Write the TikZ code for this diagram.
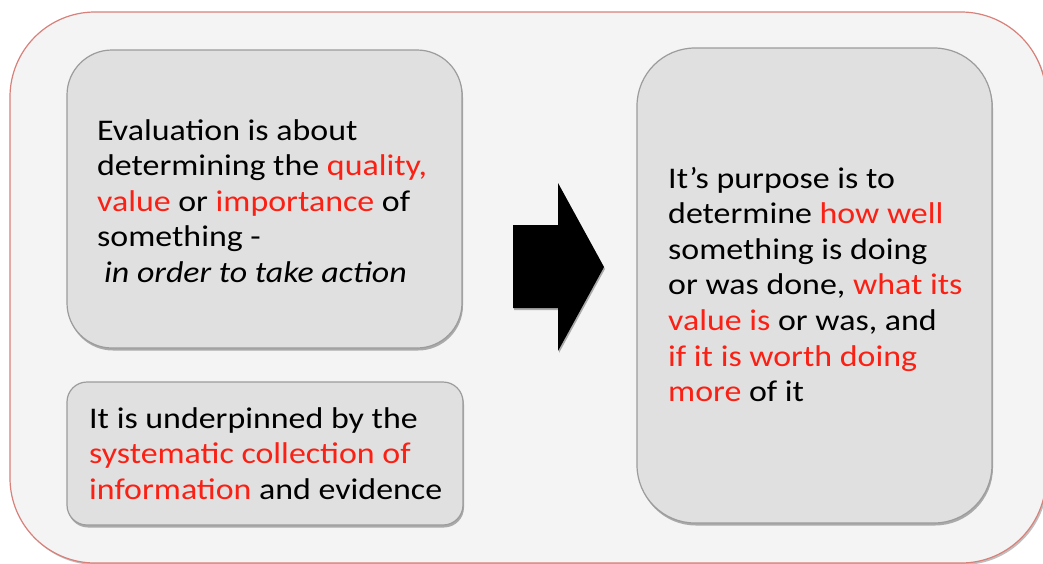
\documentclass[tikz,border=0pt]{standalone}
\usepackage{fontspec}
\setmainfont{Carlito}[FakeStretch=1.13]
\usetikzlibrary{shadows}
\definecolor{outerfill}{HTML}{F4F4F4}
\definecolor{outerline}{HTML}{D8807A}
\definecolor{boxfill}{HTML}{E0E0E0}
\definecolor{boxline}{HTML}{9C9C9C}
\definecolor{hl}{RGB}{250,32,20}
\newcommand{\hlt}[1]{\textcolor{hl}{#1}}
\tikzset{
  outerbox/.style={fill=outerfill, draw=outerline, line width=1.2pt, rounded corners=85pt,
    drop shadow={shadow xshift=1.5pt, shadow yshift=-2pt, opacity=0.25, fill=black}},
  cardbox/.style={fill=boxfill, draw=boxline, line width=1.2pt,
    drop shadow={shadow xshift=1pt, shadow yshift=-2.5pt, opacity=0.3, fill=black}},
  cardtext/.style={anchor=base west, inner sep=0pt, font=\fontsize{30}{35.6}\selectfont},
  bigarrow/.style={fill=black, draw=none,
    drop shadow={shadow xshift=1pt, shadow yshift=-2pt, opacity=0.3, fill=black}}
}
\begin{document}
\begin{tikzpicture}[x=1pt,y=-1pt]
\useasboundingbox (0,0) rectangle (1043,563);
\clip (0,0) rectangle (1043,563);
\fill[white] (0,0) rectangle (1043,563);
% outer panel
\path[outerbox] (10,12) rectangle (1046,563);
% cards
\path[cardbox, rounded corners=45pt] (67,50) rectangle (462,348);
\path[cardbox, rounded corners=20pt] (67,382) rectangle (463,525);
\path[cardbox, rounded corners=58pt] (637,48) rectangle (992,523);
% arrow
\path[bigarrow] (513,225) -- (558,225) -- (558,183) -- (604,267) -- (558,351) -- (558,308) -- (513,308) -- cycle;
% texts
\node[cardtext] (t1) at (97,140) {\parbox[t]{360pt}{\raggedright
Evaluation is about\\
determining the \hlt{quality,}\\
\hlt{value} or \hlt{importance} of\\
something -\\
\hspace*{7pt}\textit{in order to take action}}};
\node[cardtext] (t2) at (89,428) {\parbox[t]{370pt}{\raggedright
It is underpinned by the\\
\hlt{systematic collection of}\\
\hlt{information} and evidence}};
\node[cardtext] (t3) at (668,188) {\parbox[t]{320pt}{\raggedright
It’s purpose is to\\
determine \hlt{how well}\\
something is doing\\
or was done, \hlt{what its}\\
\hlt{value is} or was, and\\
\hlt{if it is worth doing}\\
\hlt{more} of it}};
\end{tikzpicture}
\end{document}
